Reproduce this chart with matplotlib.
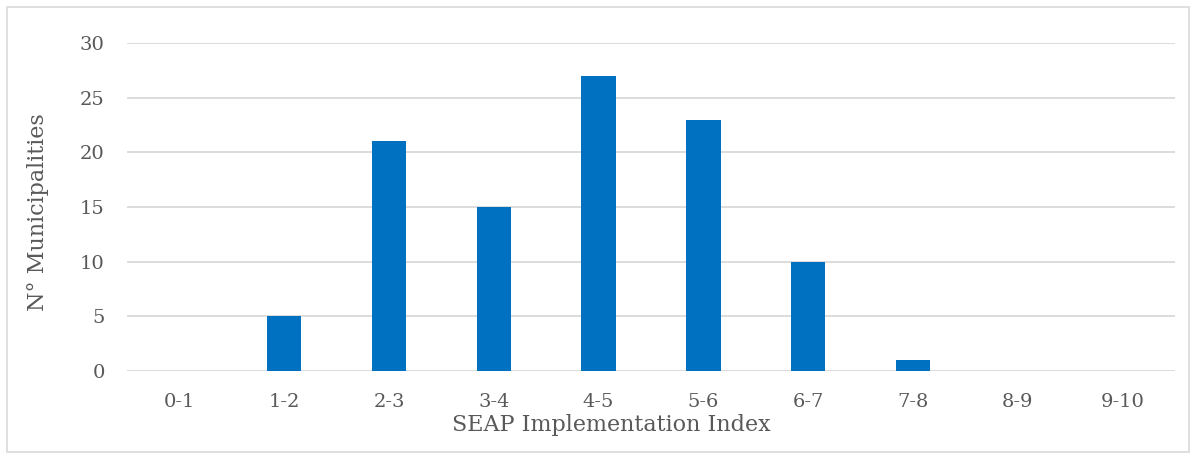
import matplotlib
matplotlib.use("Agg")
import matplotlib.pyplot as plt
from matplotlib.patches import Rectangle

# data
categories = ["0-1", "1-2", "2-3", "3-4", "4-5", "5-6", "6-7", "7-8", "8-9", "9-10"]
counts = [0, 5, 21, 15, 27, 23, 10, 1, 0, 0]

plt.rcParams["font.family"] = ["DejaVu Serif"]
txt = "#595959"

fig = plt.figure(figsize=(11.96, 4.57), dpi=100)
ax = fig.add_axes([0.1062, 0.1882, 0.8762, 0.7177])

x = range(len(categories))
ax.bar(x, counts, width=0.33, color="#0070C0", zorder=3)

ax.set_xlim(-0.5, len(categories) - 0.5)
ax.set_ylim(0, 30)
ax.set_yticks(range(0, 31, 5))
ax.set_xticks(list(x))
ax.set_xticklabels(categories)
ax.grid(axis="y", color="#D9D9D9", linewidth=1.3, zorder=0)
for s in ax.spines.values():
    s.set_visible(False)
ax.tick_params(axis="both", length=0, labelsize=14, colors=txt)
ax.tick_params(axis="x", pad=16)
ax.tick_params(axis="y", pad=16)

ax.set_xlabel("SEAP Implementation Index", fontsize=16, color=txt, labelpad=3)
ax.xaxis.set_label_coords(0.462, -0.13)
ax.set_ylabel("N° Municipalities", fontsize=16, color=txt)
ax.yaxis.set_label_coords(-0.074, 0.485)

# outer chart border
fig.patches.append(Rectangle((0.006, 0.01), 0.988, 0.975, transform=fig.transFigure,
                             fill=False, edgecolor="#D9D9D9", linewidth=1.2))

fig.savefig("out.png", dpi=100)
plt.close(fig)
